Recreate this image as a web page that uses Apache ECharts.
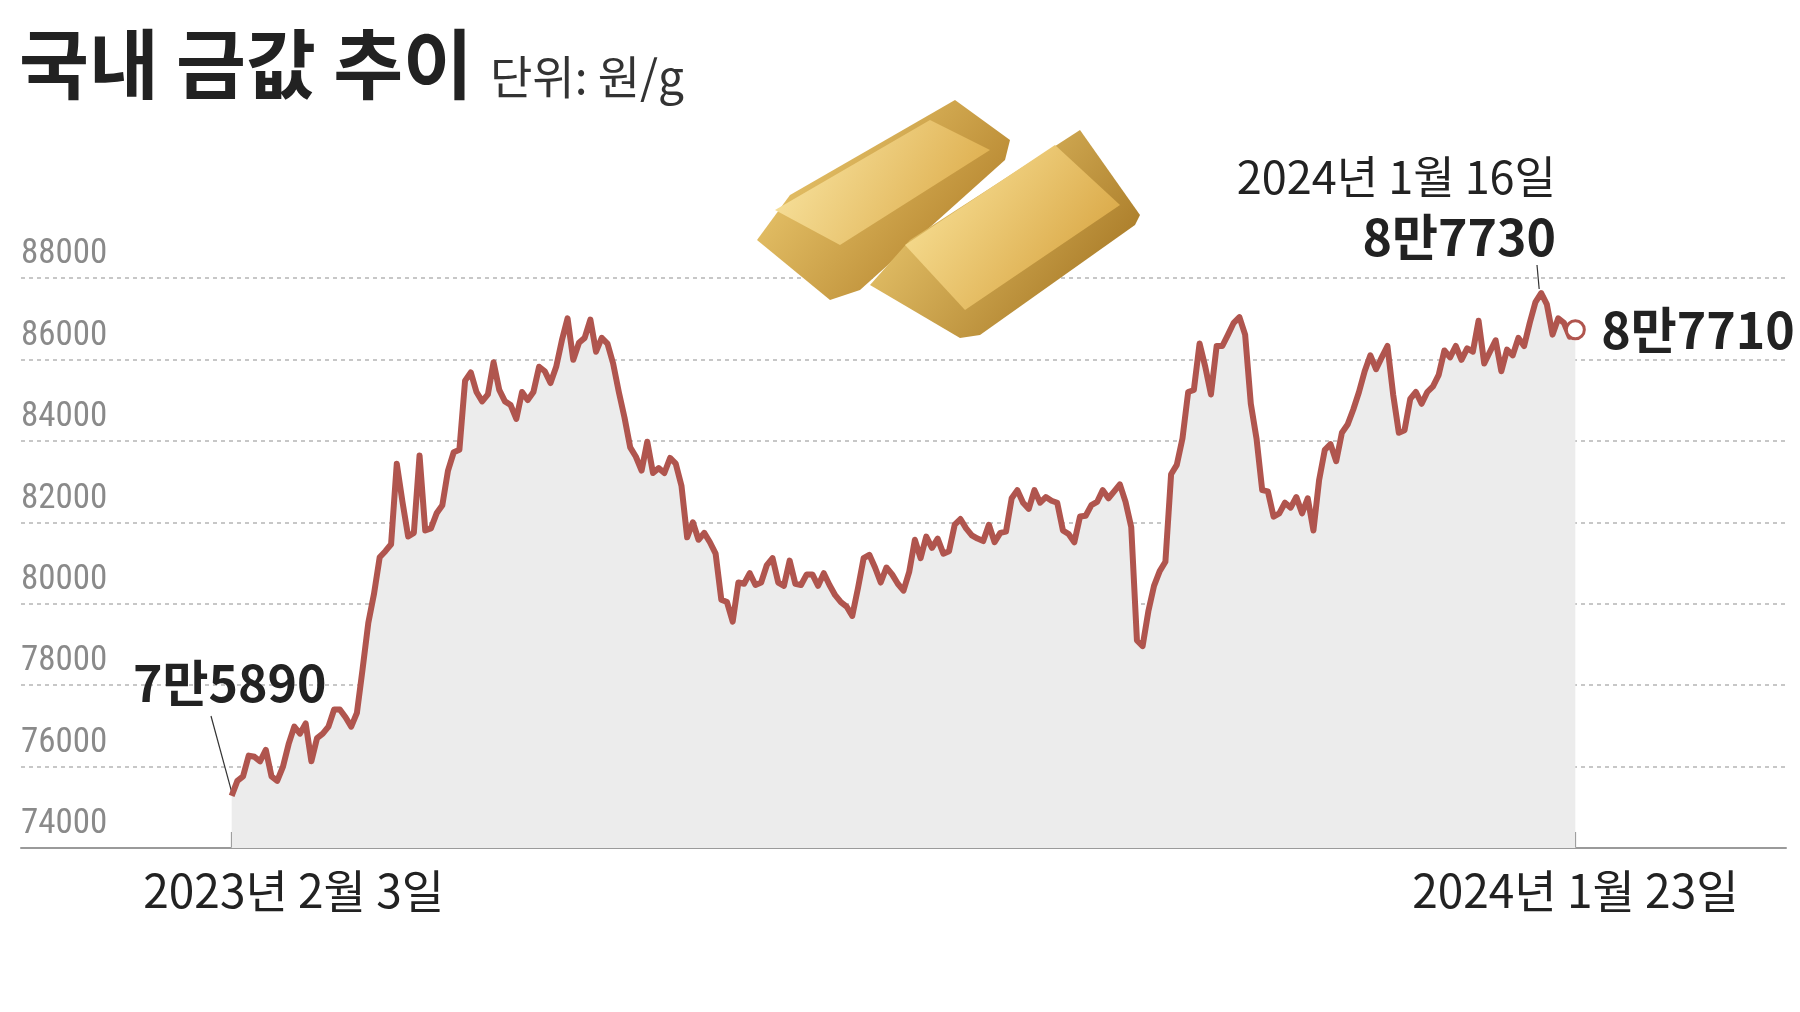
<!DOCTYPE html>
<html><head><meta charset="utf-8">
<script src="https://cdn.jsdelivr.net/npm/echarts@6/dist/echarts.min.js"></script>
<style>html,body{margin:0;padding:0;background:#fff}#c{width:1800px;height:1012px}</style>
</head><body><div id="c"></div>
<script>
const title = '국내 금값 추이';
const unit = '단위: 원/g';
const startLabel = '2023년 2월 3일';
const endLabel = '2024년 1월 23일';
const yTicks = [74000, 76000, 78000, 80000, 82000, 84000, 86000, 88000];
const prices = [75280,75650,75760,76270,76240,76130,76410,75760,75650,75990,76550,76980,76810,77060,76130,76700,76810,76980,77400,77400,77210,76980,77320,78400,79530,80240,81140,81290,81460,83440,82500,81650,81740,83640,81800,81850,82220,82420,83270,83720,83780,85480,85680,85200,84970,85140,85930,85250,84970,84880,84540,85200,85000,85200,85820,85710,85420,85820,86470,87010,85990,86410,86530,86980,86190,86530,86390,85900,85200,84570,83840,83610,83270,83980,83210,83330,83210,83580,83440,82900,81630,82000,81570,81740,81510,81230,80100,80040,79560,80520,80490,80750,80460,80520,80950,81120,80520,80440,81060,80490,80460,80720,80720,80440,80750,80460,80210,80040,79930,79700,80380,81120,81200,80890,80520,80890,80720,80490,80320,80780,81570,81120,81650,81370,81600,81230,81290,81940,82080,81850,81680,81600,81540,81940,81510,81740,81770,82590,82790,82480,82330,82790,82480,82620,82530,82480,81800,81710,81510,82140,82160,82420,82500,82790,82590,82760,82930,82500,81880,79100,78960,79810,80440,80800,81030,83180,83410,84060,85200,85250,86390,85820,85140,86330,86330,86610,86900,87040,86610,84910,84060,82790,82760,82140,82220,82480,82360,82620,82220,82590,81800,83040,83780,83920,83500,84200,84400,84770,85200,85710,86100,85760,86050,86330,85140,84200,84260,85030,85200,84910,85200,85340,85620,86220,86050,86330,85990,86270,86190,86950,85900,86190,86470,85710,86240,86100,86530,86330,86900,87410,87630,87350,86610,87010,86900,86560,86730];
const firstNote = '7만5890';
const peakDate = '2024년 1월 16일';
const peakNote = '8만7730';
const lastNote = '8만7710';

const N = prices.length;
const peakIdx = prices.indexOf(Math.max(...prices));
const seriesData = prices.map((v, i) => [i, v]);
const chart = echarts.init(document.getElementById('c'));
const lineColor = '#b0554e';
const numFont = '"Liberation Sans Narrow","Roboto Condensed","Noto Sans CJK KR",sans-serif';
const krFont = '"Noto Sans CJK KR",sans-serif';
const pad = 37;
chart.setOption({
  animation: false,
  backgroundColor: '#fff',
  grid: {left: 21, right: 14, top: 278, bottom: 164},
  xAxis: {type: 'value', min: -pad, max: N - 1 + pad, show: true,
    axisLine: {show: true, lineStyle: {color: '#9a9a9a', width: 2}},
    axisTick: {show: false}, axisLabel: {show: false}, splitLine: {show: false}},
  yAxis: {type: 'value', min: 74000, max: 88000, interval: 2000,
    axisLine: {show: false}, axisTick: {show: false},
    axisLabel: {inside: true, verticalAlign: 'bottom', margin: 0, padding: [0,0,6,0],
      color: '#8a8a8a', fontSize: 35, fontFamily: numFont,
      formatter: v => yTicks.includes(v) ? String(v) : ''},
    splitLine: {show: true, lineStyle: {color: '#b5b5b5', type: [4, 4], width: 1.5}}},
  series: [{
    type: 'line', data: seriesData, symbol: 'none', z: 3,
    lineStyle: {color: lineColor, width: 6, join: 'round'},
    areaStyle: {color: '#ececec', opacity: 1},
    markPoint: {symbol: 'circle', symbolSize: 18, silent: true,
      itemStyle: {color: '#fff', borderColor: lineColor, borderWidth: 3},
      label: {show: false},
      data: [{coord: [N - 1, prices[N - 1]]}]}
  }]
});

function px(i, v) { return chart.convertToPixel({gridIndex: 0}, [i, v]); }
const p0 = px(0, prices[0]);
const pk = px(peakIdx, prices[peakIdx]);
const pl = px(N - 1, prices[N - 1]);
const b0 = px(0, 74000);
const bl = px(N - 1, 74000);

function gold(points, c1, c2) {
  return {type: 'polygon', shape: {points}, style: {fill: new echarts.graphic.LinearGradient(0, 0, 1, 1, [{offset: 0, color: c1}, {offset: 1, color: c2}])}};
}

chart.setOption({graphic: [
  {type: 'text', left: 19, top: 26, style: {text: title, font: 'bold 76px ' + krFont, fill: '#222'}},
  {type: 'text', left: 490, top: 54, style: {text: unit, font: '46px ' + krFont, fill: '#333'}},
  gold([[757,240],[790,195],[955,100],[1010,140],[1005,160],[860,290],[830,300]], '#f4d47a', '#a8741e'),
  gold([[775,210],[930,120],[990,150],[840,245]], '#fbe9a8', '#d9a540'),
  gold([[870,285],[910,240],[1080,130],[1140,215],[1135,225],[980,335],[960,338]], '#f6d67c', '#9b6a18'),
  gold([[905,245],[1055,145],[1120,205],[965,310]], '#fde9a2', '#d29a33'),
  {type: 'text', x: (b0[0] + 62), y: 891, style: {text: startLabel, font: '46px ' + krFont, fill: '#222', align: 'center', verticalAlign: 'middle'}},
  {type: 'text', x: bl[0], y: 891, style: {text: endLabel, font: '46px ' + krFont, fill: '#222', align: 'center', verticalAlign: 'middle'}},
  {type: 'line', shape: {x1: b0[0], y1: b0[1], x2: b0[0], y2: b0[1] - 16}, style: {stroke: '#777', lineWidth: 1.5}},
  {type: 'line', shape: {x1: bl[0], y1: bl[1], x2: bl[0], y2: bl[1] - 16}, style: {stroke: '#777', lineWidth: 1.5}},
  {type: 'text', x: 133, y: 683, style: {text: firstNote, font: 'bold 50px ' + krFont, fill: '#222', verticalAlign: 'middle'}},
  {type: 'line', shape: {x1: 211, y1: 716, x2: p0[0], y2: p0[1] - 4}, style: {stroke: '#333', lineWidth: 1.2}},
  {type: 'text', x: 1556, y: 177, style: {text: peakDate, font: '45px ' + krFont, fill: '#222', align: 'right', verticalAlign: 'middle'}},
  {type: 'text', x: 1556, y: 237, style: {text: peakNote, font: 'bold 50px ' + krFont, fill: '#222', align: 'right', verticalAlign: 'middle'}},
  {type: 'line', shape: {x1: 1537, y1: 265, x2: pk[0] - 2, y2: pk[1] - 4}, style: {stroke: '#333', lineWidth: 1.2}},
  {type: 'text', x: pl[0] + 26, y: pl[1], style: {text: lastNote, font: 'bold 50px ' + krFont, fill: '#222', verticalAlign: 'middle'}}
]});
</script></body></html>
